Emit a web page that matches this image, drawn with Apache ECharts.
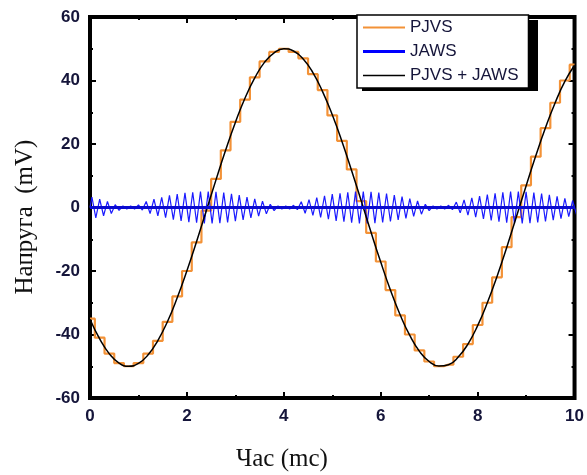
<!DOCTYPE html>
<html>
<head>
<meta charset="utf-8">
<script src="https://cdn.jsdelivr.net/npm/echarts@6/dist/echarts.min.js"></script>
<style>
  html, body { margin: 0; padding: 0; background: #fff; }
  #chart { width: 587px; height: 475px; }
</style>
</head>
<body>
<div id="chart"></div>
<script>
// time grid of the PJVS steps (ms)
var stepTimes = [0, 0.2, 0.4, 0.6, 0.8, 1, 1.2, 1.4, 1.6, 1.8, 2, 2.2, 2.4, 2.6, 2.8, 3, 3.2, 3.4, 3.6, 3.8,
  4, 4.2, 4.4, 4.6, 4.8, 5, 5.2, 5.4, 5.6, 5.8, 6, 6.2, 6.4, 6.6, 6.8, 7, 7.2, 7.4, 7.6, 7.8,
  8, 8.2, 8.4, 8.6, 8.8, 9, 9.2, 9.4, 9.6, 9.8, 10];
// PJVS step levels (mV)
var pjvsLevels = [-35, -41, -46, -49, -50, -49, -46, -42, -36, -28, -20, -11, -1, 9, 18, 27, 34, 41, 46, 49,
  50, 49, 47, 42, 37, 29, 21, 12, 2, -8, -17, -26, -34, -40, -45, -48.5, -50, -49.5, -47, -43,
  -37, -30, -22, -12.5, -3, 7, 16, 25, 33, 40, 45];
// PJVS + JAWS (smooth synthesized sine, mV)
var sumValues = [-35.2, -41.4, -46.1, -49, -50, -49.1, -46.4, -41.9, -35.9, -28.4, -19.9, -10.7, -1, 8.7, 18.1, 26.8, 34.5, 40.8, 45.7, 48.7,
  50, 49.3, 46.8, 42.5, 36.5, 29.2, 20.8, 11.6, 2, -7.8, -17.2, -26, -33.8, -40.3, -45.3, -48.5, -49.9, -49.5, -47.1, -43,
  -37.2, -30, -21.7, -12.6, -2.9, 6.8, 16.3, 25.1, 33, 39.7, 44.8];
// JAWS oscillation amplitude per cycle (mV), one cycle every 0.16 ms
var jawsAmp = [3.3, 2.6, 1.9, 0.9, 0.5, 0.5, 0.8, 1.9, 2.6, 3.2, 3.8, 4.2, 4.6, 4.8, 5.0, 5.0, 4.9, 4.7, 4.3, 3.9,
  3.3, 2.7, 2.0, 1.0, 0.5, 0.5, 0.7, 1.8, 2.5, 3.1, 3.7, 4.2, 4.5, 4.8, 5.0, 5.0, 4.9, 4.7, 4.4, 3.9,
  3.4, 2.8, 2.1, 1.0, 0.5, 0.5, 0.7, 1.7, 2.4, 3.0, 3.6, 4.1, 4.5, 4.8, 5.0, 5.0, 4.9, 4.7, 4.4, 4.0,
  3.5, 2.9, 2.2];
var jawsPeriod = 0.16;

var xTicks = { min: 0, max: 10, interval: 2 };
var yTicks = { min: -60, max: 60, interval: 20 };

var pjvsData = stepTimes.map(function (t, i) { return [t, pjvsLevels[i]]; });
var sumData = stepTimes.map(function (t, i) { return [t, sumValues[i]]; });
var jawsData = [[0, 0]];
jawsAmp.forEach(function (a, c) {
  jawsData.push([c * jawsPeriod + jawsPeriod / 4, a]);
  jawsData.push([c * jawsPeriod + jawsPeriod * 3 / 4, -a]);
});

var labelColor = '#15153a';
var chart = echarts.init(document.getElementById('chart'));

function axisBase(extra) {
  var o = {
    type: 'value',
    axisLine: { show: false, onZero: false },
    axisTick: { show: true, inside: true, length: 6, lineStyle: { color: '#000', width: 2 } },
    minorTick: { show: true, splitNumber: 2, length: 3, lineStyle: { color: '#000', width: 2 } },
    splitLine: { show: false },
    minorSplitLine: { show: false }
  };
  for (var k in extra) o[k] = extra[k];
  return o;
}

chart.setOption({
  backgroundColor: '#fff',
  animation: false,
  grid: { left: 90, right: 10, top: 17, bottom: 77, show: true, borderColor: '#000', borderWidth: 4, backgroundColor: 'transparent' },
  xAxis: [
    axisBase({
      min: xTicks.min, max: xTicks.max, interval: xTicks.interval, position: 'bottom',
      axisLabel: { color: labelColor, fontFamily: 'Liberation Sans, Arial, sans-serif', fontWeight: 'bold', fontSize: 17, margin: 10 }
    }),
    axisBase({
      min: xTicks.min, max: xTicks.max, interval: xTicks.interval, position: 'top',
      axisLabel: { show: false }
    })
  ],
  yAxis: [
    axisBase({
      min: yTicks.min, max: yTicks.max, interval: yTicks.interval, position: 'left',
      axisLabel: { color: labelColor, fontFamily: 'Liberation Sans, Arial, sans-serif', fontWeight: 'bold', fontSize: 17, margin: 10 }
    }),
    axisBase({
      min: yTicks.min, max: yTicks.max, interval: yTicks.interval, position: 'right',
      axisLabel: { show: false }
    })
  ],
  legend: {
    orient: 'vertical',
    left: 357, top: 15,
    padding: [4, 10, 4, 6],
    itemWidth: 42, itemHeight: 16, itemGap: 7,
    backgroundColor: '#fff',
    borderColor: '#000', borderWidth: 1.5,
    z: 6,
    textStyle: { color: labelColor, fontFamily: 'Liberation Sans, Arial, sans-serif', fontSize: 17, lineHeight: 16 },
    data: [
      { name: 'PJVS', icon: 'path://M0,7L42,7L42,9L0,9Z', itemStyle: { color: '#f39237' } },
      { name: 'JAWS', icon: 'path://M0,6.5L42,6.5L42,9.5L0,9.5Z', itemStyle: { color: '#0000ff' } },
      { name: 'PJVS + JAWS', icon: 'path://M0,7.2L42,7.2L42,8.8L0,8.8Z', itemStyle: { color: '#000' } }
    ]
  },
  graphic: [
    { type: 'rect', z: 5, shape: { x: 362, y: 20, width: 176, height: 71 }, style: { fill: '#000' } },
    { type: 'text', left: 236, top: 447, z: 10,
      style: { text: 'Час (mc)', fill: '#111', font: '25px "Liberation Serif", "Times New Roman", serif' } },
    { type: 'text', x: 25, y: 217, rotation: Math.PI / 2, z: 10,
      style: { text: 'Напруга  (mV)', fill: '#111', align: 'center', verticalAlign: 'middle', font: '25px "Liberation Serif", "Times New Roman", serif' } }
  ],
  series: [
    {
      name: 'PJVS', type: 'line', step: 'middle', data: pjvsData, showSymbol: false, symbol: 'none',
      lineStyle: { color: '#f39237', width: 2.2 }, itemStyle: { color: '#f39237' }, z: 2
    },
    {
      name: 'JAWS', type: 'line', data: jawsData, showSymbol: false, symbol: 'none',
      lineStyle: { color: '#1a1aff', width: 1.2 }, itemStyle: { color: '#0000ff' }, z: 3,
      markLine: {
        silent: true, symbol: 'none', label: { show: false },
        lineStyle: { color: '#0a0ad0', width: 3, type: 'solid' },
        data: [{ yAxis: 0 }]
      }
    },
    {
      name: 'PJVS + JAWS', type: 'line', smooth: true, data: sumData, showSymbol: false, symbol: 'none',
      lineStyle: { color: '#000', width: 1.5 }, itemStyle: { color: '#000' }, z: 4
    }
  ]
});
</script>
</body>
</html>
